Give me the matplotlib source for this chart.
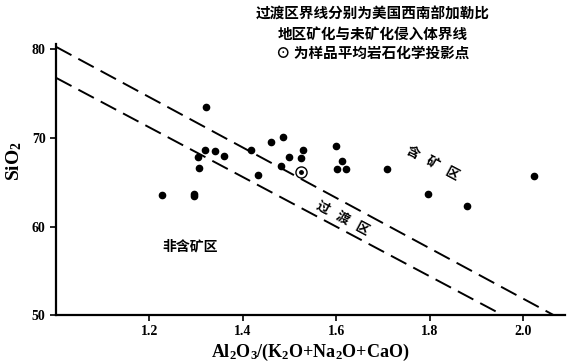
import numpy as np
import matplotlib.pyplot as plt

plt.rcParams['font.family'] = ['Liberation Serif', 'Noto Sans CJK SC']
plt.rcParams['mathtext.fontset'] = 'custom'
plt.rcParams['mathtext.rm'] = 'Liberation Serif:bold'
plt.rcParams['mathtext.bf'] = 'Liberation Serif:bold'
plt.rcParams['mathtext.it'] = 'Liberation Serif:bold'

# sample points: Al2O3/(K2O+Na2O+CaO) vs SiO2
ratio = [1.321, 1.226, 1.296, 1.296, 1.306, 1.304, 1.319, 1.340, 1.359, 1.418,
         1.433, 1.461, 1.486, 1.499, 1.481, 1.528, 1.524, 1.600, 1.612, 1.602,
         1.621, 1.709, 1.797, 1.880, 2.023]
sio2 = [73.5, 63.6, 63.7, 63.4, 66.6, 67.8, 68.7, 68.5, 68.0, 68.6,
        65.8, 69.5, 70.1, 67.9, 66.8, 68.6, 67.7, 69.1, 67.4, 66.5,
        66.5, 66.5, 63.7, 62.3, 65.7]
# average sample
avg_ratio = [1.524]
avg_sio2 = [66.2]

# transition zone boundary lines (x, y end points)
upper_x = [1.0, 2.065]
upper_y = [80.3, 50.0]
lower_x = [1.0, 1.956]
lower_y = [76.8, 50.0]

fig = plt.figure(figsize=(5.72, 3.64), dpi=100)
ax = fig.add_axes([0.098, 0.1346, 0.89, 0.744])

ax.plot(upper_x, upper_y, color='black', lw=1.4, dashes=(9, 4))
ax.plot(lower_x, lower_y, color='black', lw=1.4, dashes=(9, 4))
ax.plot(ratio, sio2, 'o', color='black', ms=4.5, ls='none')
ax.plot(avg_ratio, avg_sio2, 'o', mfc='white', mec='black', mew=1.0, ms=8, ls='none')
ax.plot(avg_ratio, avg_sio2, 'o', color='black', ms=2.5, ls='none')

ax.set_xlim(1.0, 2.09)
ax.set_ylim(50, 80.6)
ax.set_xticks([1.2, 1.4, 1.6, 1.8, 2.0])
ax.set_xticklabels(['1.2', '1.4', '1.6', '1.8', '2.0'])
ax.set_yticks([50, 60, 70, 80])
for s in ['top', 'right']:
    ax.spines[s].set_visible(False)
for s in ['left', 'bottom']:
    ax.spines[s].set_linewidth(1.6)
ax.tick_params(direction='out', length=4, width=1.2, labelsize=10)
for lab in ax.get_xticklabels() + ax.get_yticklabels():
    lab.set_fontweight('bold')

ax.set_xlabel('Al$_2$O$_3$/(K$_2$O+Na$_2$O+CaO)', fontsize=13, fontweight='bold')
ax.xaxis.set_label_coords(0.5, -0.10)
ax.set_ylabel('SiO$_2$', fontsize=14, fontweight='bold')
ax.yaxis.set_label_coords(-0.063, 0.57)

cjk = ['Noto Sans CJK SC', 'DejaVu Sans']
ax.text(1.287, 57.7, '非含矿区', fontsize=10, family=cjk, fontweight='bold',
        ha='center', va='center')
ax.text(1.806, 67.2, '含   矿   区', fontsize=9.5, family=cjk, fontweight='bold',
        ha='center', va='center', rotation=-28)
ax.text(1.614, 61.0, '过   渡   区', fontsize=9.5, family=cjk, fontweight='bold',
        ha='center', va='center', rotation=-28)

fig.text(0.652, 0.985, '过渡区界线分别为美国西南部加勒比\n地区矿化与未矿化侵入体界线\n⊙ 为样品平均岩石化学投影点',
         fontsize=10.5, family=cjk, fontweight='bold', ha='center', va='top', linespacing=1.3)

fig.savefig('out.png', dpi=100)
